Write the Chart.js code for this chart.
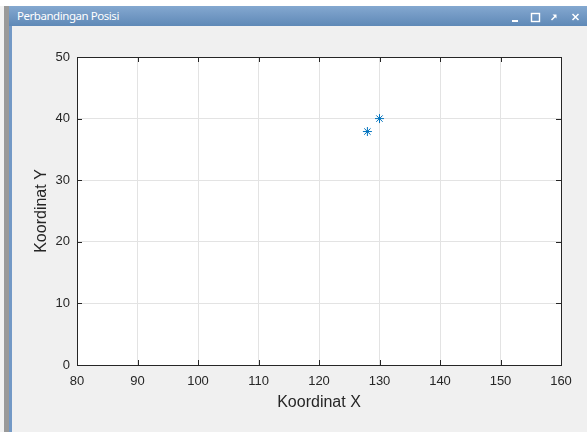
<!DOCTYPE html>
<html>
<head>
<meta charset="utf-8">
<script src="https://cdn.jsdelivr.net/npm/chart.js@4/dist/chart.umd.min.js"></script>
<style>
  html, body { margin: 0; padding: 0; width: 587px; height: 432px; overflow: hidden; background: #ffffff; }
  #outer { position: absolute; left: 0; top: 6px; width: 4px; height: 426px; background: #f2f2f2; }
  #greyband { position: absolute; left: 4px; top: 6px; width: 5px; height: 426px; background: #9a9a9a; }
  #blueband { position: absolute; left: 9px; top: 26px; width: 3px; height: 406px; background: #7399c6; }
  #titlebar { position: absolute; left: 9px; top: 6px; width: 578px; height: 20px;
    background: linear-gradient(#84a8d0, #5f89b7); }
  #titletext { position: absolute; left: 8px; top: 2px; color: #ffffff; font: 11.5px "Noto Sans", "Open Sans", sans-serif; letter-spacing: -0.45px; }
  #content { position: absolute; left: 12px; top: 26px; width: 575px; height: 406px; background: #f0f0f0; }
  #ctrls { position: absolute; left: 500px; top: 6px; }
  canvas#c { position: absolute; left: 0; top: 0; }
</style>
</head>
<body>
<div id="outer"></div>
<div id="greyband"></div>
<div id="content"></div>
<div id="blueband"></div>
<div id="titlebar"><div id="titletext">Perbandingan Posisi</div></div>
<svg id="ctrls" width="87" height="20" viewBox="0 0 87 20">
  <rect x="12" y="14" width="6" height="2" fill="#ffffff"/>
  <rect x="31.5" y="7.5" width="8" height="8" fill="none" stroke="#ffffff" stroke-width="1.4"/>
  <path d="M51.5 14 L55.5 10" stroke="#ffffff" stroke-width="1.4" fill="none"/>
  <path d="M52.5 8.5 L56.5 8.5 L56.5 12.5 Z" fill="#ffffff"/>
  <path d="M72.5 8 L78.5 14 M78.5 8 L72.5 14" stroke="#ffffff" stroke-width="1.5" fill="none"/>
</svg>
<canvas id="c" width="587" height="432"></canvas>
<script>
// ---- data ----
const xValues = [128, 130];
const yValues = [37.9, 40];
const xTickValues = [80, 90, 100, 110, 120, 130, 140, 150, 160];
const yTickValues = [0, 10, 20, 30, 40, 50];
const xLabel = 'Koordinat X';
const yLabel = 'Koordinat Y';

const points = xValues.map((x, i) => ({ x: x, y: yValues[i] }));
const axisColor = '#262626';
const gridColor = '#e3e3e3';
const fontFamily = '"Liberation Sans", Arial, sans-serif';

const boxTicks = {
  id: 'boxTicks',
  afterDatasetsDraw(chart) {
    const { ctx, chartArea: a, scales } = chart;
    const L = 5;
    ctx.save();
    ctx.strokeStyle = axisColor;
    ctx.lineWidth = 1;
    ctx.beginPath();
    ctx.moveTo(Math.round(a.left) + 0.5, Math.round(a.top) + 0.5);
    ctx.lineTo(Math.round(a.right) + 0.5, Math.round(a.top) + 0.5);
    ctx.lineTo(Math.round(a.right) + 0.5, Math.round(a.bottom) + 0.5);
    ctx.lineTo(Math.round(a.left) + 0.5, Math.round(a.bottom) + 0.5);
    ctx.closePath();
    xTickValues.forEach(v => {
      const px = Math.round(scales.x.getPixelForValue(v)) + 0.5;
      ctx.moveTo(px, a.bottom); ctx.lineTo(px, a.bottom - L);
      ctx.moveTo(px, a.top); ctx.lineTo(px, a.top + L);
    });
    yTickValues.forEach(v => {
      const py = Math.round(scales.y.getPixelForValue(v)) + 0.5;
      ctx.moveTo(a.left, py); ctx.lineTo(a.left + L, py);
      ctx.moveTo(a.right, py); ctx.lineTo(a.right - L, py);
    });
    ctx.stroke();
    ctx.restore();
  }
};

const plotBg = {
  id: 'plotBg',
  beforeDraw(chart) {
    const { ctx, chartArea: a } = chart;
    ctx.save();
    ctx.fillStyle = '#ffffff';
    ctx.fillRect(a.left, a.top, a.right - a.left, a.bottom - a.top);
    ctx.restore();
  }
};

new Chart(document.getElementById('c'), {
  type: 'scatter',
  data: {
    datasets: [{
      data: points,
      pointStyle: 'star',
      pointRadius: 4.5,
      pointHoverRadius: 4.5,
      borderColor: '#0072BD',
      backgroundColor: '#0072BD',
      pointBorderWidth: 1,
      showLine: false
    }]
  },
  options: {
    responsive: false,
    animation: false,
    events: [],
    layout: { padding: { left: 0, top: 57, right: 26, bottom: 0 } },
    plugins: { legend: { display: false }, tooltip: { enabled: false } },
    scales: {
      x: {
        type: 'linear', min: 80, max: 160,
        afterBuildTicks: s => { s.ticks = xTickValues.map(v => ({ value: v })); },
        afterFit: s => { s.height = 67; },
        ticks: { color: axisColor, font: { family: fontFamily, size: 13 }, padding: 9, maxRotation: 0, autoSkip: false },
        grid: { color: gridColor, drawTicks: false },
        border: { display: true, color: axisColor },
        title: { display: true, text: xLabel, color: axisColor, font: { family: fontFamily, size: 16 }, padding: { top: 0, bottom: 20 } }
      },
      y: {
        type: 'linear', min: 0, max: 50,
        afterBuildTicks: s => { s.ticks = yTickValues.map(v => ({ value: v })); },
        afterFit: s => { s.width = 77; },
        ticks: { color: axisColor, font: { family: fontFamily, size: 13 }, padding: 7, autoSkip: false },
        grid: { color: gridColor, drawTicks: false },
        border: { display: true, color: axisColor },
        title: { display: true, text: yLabel, color: axisColor, font: { family: fontFamily, size: 16 }, padding: { top: 32, bottom: 0 } }
      }
    }
  },
  plugins: [plotBg, boxTicks]
});
</script>
</body>
</html>
